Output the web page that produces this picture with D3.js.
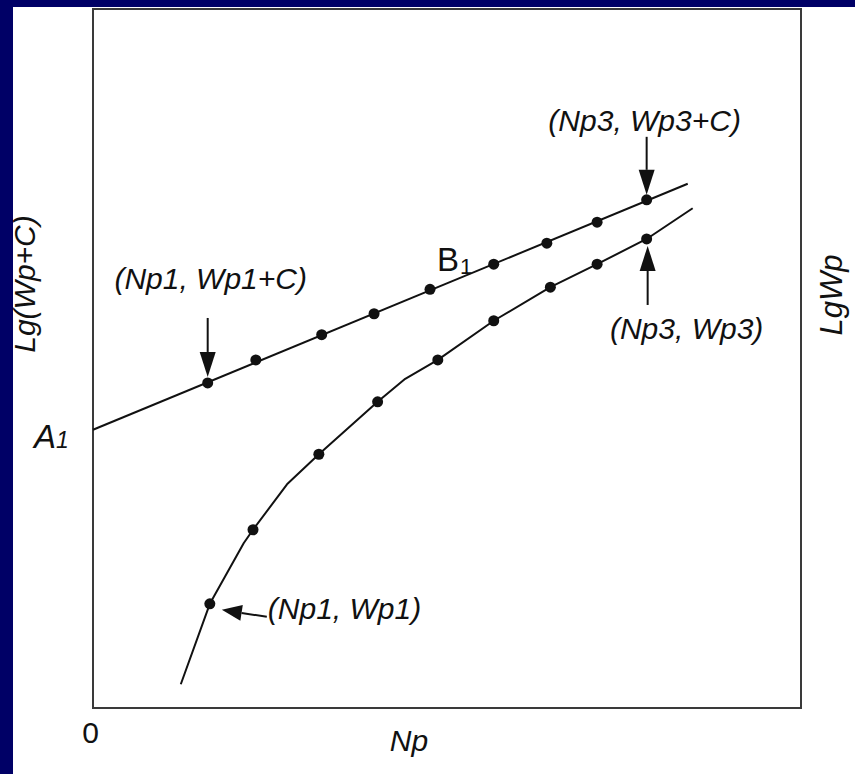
<!DOCTYPE html>
<html>
<head>
<meta charset="utf-8">
<script src="https://cdn.jsdelivr.net/npm/d3@7"></script>
<style>
  html, body { margin: 0; padding: 0; background: #000066; }
  svg { display: block; }
</style>
</head>
<body>
<svg id="chart" width="855" height="774"></svg>
<script>
// Np on the horizontal axis, logarithmic growth on the vertical axis (arbitrary units)
const xDomain = [0, 100];
const yDomain = [0, 100];
const xTickValues = [0];

// Shifted series Lg(Wp + C): points lying on the straight line A1 + B1·Np
const upperN  = [16.2, 23.0, 32.3, 39.7, 47.6, 56.6, 64.1, 71.2, 78.2];
const upperLg = [46.5, 49.8, 53.4, 56.4, 59.9, 63.5, 66.5, 69.5, 72.7];
const upperLineN  = [0, 84.0];
const upperLineLg = [39.8, 75.0];

// Raw series Lg Wp
const lowerN  = [16.5, 22.6, 31.9, 40.2, 48.7, 56.6, 64.6, 71.2, 78.2];
const lowerLg = [14.9, 25.5, 36.3, 43.8, 49.8, 55.4, 60.2, 63.5, 67.1];
const lowerCurveN  = [12.4, 16.5, 21.3, 22.6, 27.4, 31.9, 40.2, 44.1, 48.7, 56.6, 64.6, 71.2, 78.2, 84.7];
const lowerCurveLg = [3.4, 14.9, 23.6, 25.5, 32.0, 36.3, 43.8, 47.1, 49.8, 55.4, 60.2, 63.5, 67.1, 71.5];

const W = 855, H = 774;
const FONT = "'Liberation Sans', Arial, Helvetica, sans-serif";
const INK = "#111";
const FS = 30;

const svg = d3.select("#chart");

// dark navy border with the white sheet
svg.append("rect").attr("width", W).attr("height", H).attr("fill", "#000066");
svg.append("rect").attr("x", 13).attr("y", 7).attr("width", W - 13).attr("height", H - 7).attr("fill", "#ffffff");

const x = d3.scaleLinear().domain(xDomain).range([93, 801]);
const y = d3.scaleLinear().domain(yDomain).range([708, 9]);

// plot frame
svg.append("rect")
  .attr("x", x(0)).attr("y", y(100))
  .attr("width", x(100) - x(0)).attr("height", y(0) - y(100))
  .attr("fill", "none").attr("stroke", "#3a3a3a").attr("stroke-width", 2);

// origin label via bottom axis
const xAxis = d3.axisBottom(x).tickValues(xTickValues).tickSize(0).tickPadding(14).tickFormat(d3.format("d"));
const gx = svg.append("g").attr("transform", `translate(0,${y(0)})`).call(xAxis);
gx.select(".domain").remove();
gx.selectAll("text")
  .attr("font-family", FONT).attr("font-size", FS).attr("fill", INK)
  .attr("dx", -3).attr("dy", "0.71em");

const lineGen = d3.line().x(d => x(d[0])).y(d => y(d[1]));

// straight fitted line
svg.append("path")
  .datum(upperLineN.map((n, i) => [n, upperLineLg[i]]))
  .attr("d", lineGen).attr("fill", "none").attr("stroke", INK).attr("stroke-width", 2);

// raw curve
svg.append("path")
  .datum(lowerCurveN.map((n, i) => [n, lowerCurveLg[i]]))
  .attr("d", lineGen).attr("fill", "none").attr("stroke", INK).attr("stroke-width", 2)
  .attr("stroke-linejoin", "round");

// points
const upperPts = upperN.map((n, i) => [n, upperLg[i]]);
const lowerPts = lowerN.map((n, i) => [n, lowerLg[i]]);
svg.append("g").selectAll("circle").data(upperPts.concat(lowerPts)).join("circle")
  .attr("cx", d => x(d[0])).attr("cy", d => y(d[1])).attr("r", 5.5).attr("fill", INK);

// arrow helper: shaft plus filled head, tip at (x2, y2)
function arrow(x1, y1, x2, y2, len = 25, half = 8) {
  const dx = x2 - x1, dy = y2 - y1, L = Math.hypot(dx, dy);
  const ux = dx / L, uy = dy / L;
  const bx = x2 - ux * len, by = y2 - uy * len;
  svg.append("line").attr("x1", x1).attr("y1", y1).attr("x2", bx).attr("y2", by)
    .attr("stroke", INK).attr("stroke-width", 2);
  svg.append("path")
    .attr("d", `M${x2},${y2}L${bx - uy * half},${by + ux * half}L${bx + uy * half},${by - ux * half}Z`)
    .attr("fill", INK);
}

function label(tx, ty, str, anchor = "middle") {
  return svg.append("text").attr("x", tx).attr("y", ty)
    .attr("font-family", FONT).attr("font-size", FS).attr("font-style", "italic")
    .attr("text-anchor", anchor).attr("fill", INK).text(str);
}

// (Np1, Wp1+C)
{
  const px = x(upperN[0]), py = y(upperLg[0]);
  label(px + 3, py - 94, "(Np1, Wp1+C)");
  arrow(px, py - 65, px, py - 6);
}
// (Np3, Wp3+C)
{
  const k = upperN.length - 1;
  const px = x(upperN[k]), py = y(upperLg[k]);
  label(px - 2, py - 69, "(Np3, Wp3+C)");
  arrow(px, py - 63, px, py - 5);
}
// (Np3, Wp3)
{
  const k = lowerN.length - 1;
  const px = x(lowerN[k]), py = y(lowerLg[k]);
  label(px + 40, py + 100, "(Np3, Wp3)");
  arrow(px + 1, py + 66, px + 1, py + 7);
}
// (Np1, Wp1)
{
  const px = x(lowerN[0]), py = y(lowerLg[0]);
  label(px + 58, py + 15, "(Np1, Wp1)", "start");
  arrow(px + 57, py + 13, px + 12, py + 6, 20, 8);
}

// B1 label on the straight line
{
  const t = svg.append("text").attr("x", 437).attr("y", 271)
    .attr("font-family", FONT).attr("font-size", 33).attr("fill", INK);
  t.append("tspan").text("B");
  t.append("tspan").attr("font-size", 22).attr("dx", 1).attr("dy", 3).text("1");
}

// A1 intercept label
{
  const t = svg.append("text").attr("x", 34).attr("y", 448)
    .attr("font-family", FONT).attr("font-size", 33).attr("font-style", "italic").attr("fill", INK);
  t.append("tspan").text("A");
  t.append("tspan").attr("font-size", 23).text("1");
}

// axis titles
svg.append("text").attr("transform", "translate(35,284) rotate(-90)")
  .attr("font-family", FONT).attr("font-size", FS).attr("font-style", "italic")
  .attr("text-anchor", "middle").attr("fill", INK).text("Lg(Wp+C)");

svg.append("text").attr("transform", "translate(842,295) rotate(-90)")
  .attr("font-family", FONT).attr("font-size", 31).attr("font-style", "italic")
  .attr("text-anchor", "middle").attr("fill", INK).text("LgWp");

svg.append("text").attr("x", 409).attr("y", 751)
  .attr("font-family", FONT).attr("font-size", FS).attr("font-style", "italic")
  .attr("text-anchor", "middle").attr("fill", INK).text("Np");
</script>
</body>
</html>
